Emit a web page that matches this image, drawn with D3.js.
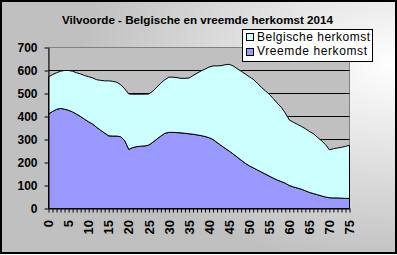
<!DOCTYPE html>
<html>
<head>
<meta charset="utf-8">
<script src="https://cdn.jsdelivr.net/npm/d3@7"></script>
<style>
  body { margin: 0; background: #fff; }
  svg { display: block; }
  text { font-family: "Liberation Sans", Arial, sans-serif; }
</style>
</head>
<body>
<div id="chart"></div>
<script>
// leeftijden 0..75
const ages = d3.range(0, 76);

const vreemde = [411, 422, 431, 435, 432, 427, 420, 410, 400, 388,
  377, 367, 353, 340, 328, 316, 315, 315, 312, 295,
  257, 265, 269, 271, 272, 276, 288, 302, 315, 327,
  331, 331, 330, 329, 327, 325, 323, 320, 317, 313,
  308, 300, 287, 274, 262, 250, 237, 224, 210, 197,
  186, 177, 168, 159, 150, 141, 132, 124, 117, 110,
  100, 94, 89, 84, 77, 70, 65, 60, 55, 50,
  47, 46, 46, 45, 44, 44];

const belgische = [162, 160, 159, 162, 168, 173, 177, 180, 185, 190,
  196, 201, 207, 217, 227, 239, 238, 234, 226, 225,
  241, 232, 228, 226, 225, 222, 222, 226, 230, 233,
  240, 240, 239, 237, 239, 242, 255, 268, 281, 293,
  307, 320, 333, 347, 363, 377, 383, 384, 387, 388,
  387, 385, 377, 369, 362, 356, 346, 334, 323, 305,
  285, 281, 277, 273, 270, 265, 260, 250, 240, 228,
  208, 214, 217, 221, 226, 231];

const yTicks = [0, 100, 200, 300, 400, 500, 600, 700];
const xLabels = [0, 5, 10, 15, 20, 25, 30, 35, 40, 45, 50, 55, 60, 65, 70, 75];
const title = "Vilvoorde - Belgische en vreemde herkomst 2014";
const legendNames = ["Belgische herkomst", "Vreemde herkomst"];

const W = 397, H = 255;
const colors = { vreemde: "#9999ff", belgische: "#ccffff" };

const svg = d3.select("#chart").append("svg")
  .attr("width", W)
  .attr("height", H);

// achtergrond met verloop
const grad = svg.append("defs").append("radialGradient")
  .attr("id", "bg")
  .attr("cx", "100%").attr("cy", "25%").attr("r", "80%");
grad.append("stop").attr("offset", "0%").attr("stop-color", "#ffffff");
grad.append("stop").attr("offset", "100%").attr("stop-color", "#c0c0c0");

svg.append("rect")
  .attr("x", 1).attr("y", 1)
  .attr("width", W - 2).attr("height", H - 3)
  .attr("fill", "url(#bg)")
  .attr("stroke", "#000")
  .attr("stroke-width", 2);

svg.append("text")
  .attr("x", 197.5)
  .attr("y", 24)
  .attr("text-anchor", "middle")
  .attr("font-size", 10)
  .attr("font-weight", "bold")
  .attr("textLength", 271)
  .attr("lengthAdjust", "spacingAndGlyphs")
  .text(title);

const x = d3.scalePoint()
  .domain(ages)
  .range([48.5, 349.5]);

const y = d3.scaleLinear()
  .domain([0, 700])
  .range([208.5, 47.5]);

// plot area
svg.append("rect")
  .attr("x", 48.5).attr("y", 47.5)
  .attr("width", 301).attr("height", 161)
  .attr("fill", "#c0c0c0")
  .attr("stroke", "#808080");

svg.append("g")
  .selectAll("line")
  .data(yTicks.filter(d => d > 0 && d < 700))
  .join("line")
    .attr("x1", 48.5)
    .attr("x2", 349.5)
    .attr("y1", d => y(d))
    .attr("y2", d => y(d))
    .attr("stroke", "#000");

const rows = ages.map((a, i) => ({ age: a, vreemde: vreemde[i], belgische: belgische[i] }));
const stacked = d3.stack().keys(["vreemde", "belgische"])(rows);

const area = d3.area()
  .x(d => x(d.data.age))
  .y0(d => y(d[0]))
  .y1(d => y(d[1]));

svg.append("g")
  .selectAll("path")
  .data(stacked)
  .join("path")
    .attr("d", area)
    .attr("fill", d => colors[d.key])
    .attr("stroke", "#000")
    .attr("stroke-width", 1);

// assen
const xAxis = svg.append("g")
  .attr("transform", "translate(0,208.5)")
  .call(d3.axisBottom(x).tickValues(ages).tickSize(4).tickSizeOuter(0).tickFormat(""));
xAxis.select(".domain").attr("stroke", "#000");
xAxis.selectAll(".tick line").attr("stroke", "#000");

const yAxis = svg.append("g")
  .attr("transform", "translate(48.5,0)")
  .call(d3.axisLeft(y).tickValues(yTicks).tickSize(4).tickSizeOuter(0).tickPadding(7));
yAxis.select(".domain").attr("stroke", "#000");
yAxis.selectAll(".tick line").attr("stroke", "#000");
yAxis.selectAll(".tick text")
  .attr("fill", "#000")
  .attr("font-size", 12)
  .attr("font-weight", "bold")
  .attr("font-family", "'Liberation Sans', Arial, sans-serif");

svg.append("g")
  .selectAll("text")
  .data(xLabels)
  .join("text")
    .attr("transform", d => `translate(${x(d)},220) rotate(-90)`)
    .attr("text-anchor", "end")
    .attr("dy", "0.36em")
    .attr("font-size", 13)
    .attr("font-weight", "bold")
    .text(d => d);

// legende
const legend = svg.append("g");
legend.append("rect")
  .attr("x", 242.5).attr("y", 29.5)
  .attr("width", 130).attr("height", 32)
  .attr("fill", "#fff")
  .attr("stroke", "#000");

const legendColors = [colors.belgische, colors.vreemde];
const legendWidths = [113, 110];
legendNames.forEach((name, i) => {
  legend.append("rect")
    .attr("x", 246.5).attr("y", 33.5 + i * 15)
    .attr("width", 7).attr("height", 7)
    .attr("fill", legendColors[i])
    .attr("stroke", "#000");
  legend.append("text")
    .attr("x", 257)
    .attr("y", 41 + i * 14)
    .attr("font-size", 12)
    .attr("textLength", legendWidths[i])
    .attr("lengthAdjust", "spacing")
    .text(name);
});
</script>
</body>
</html>
